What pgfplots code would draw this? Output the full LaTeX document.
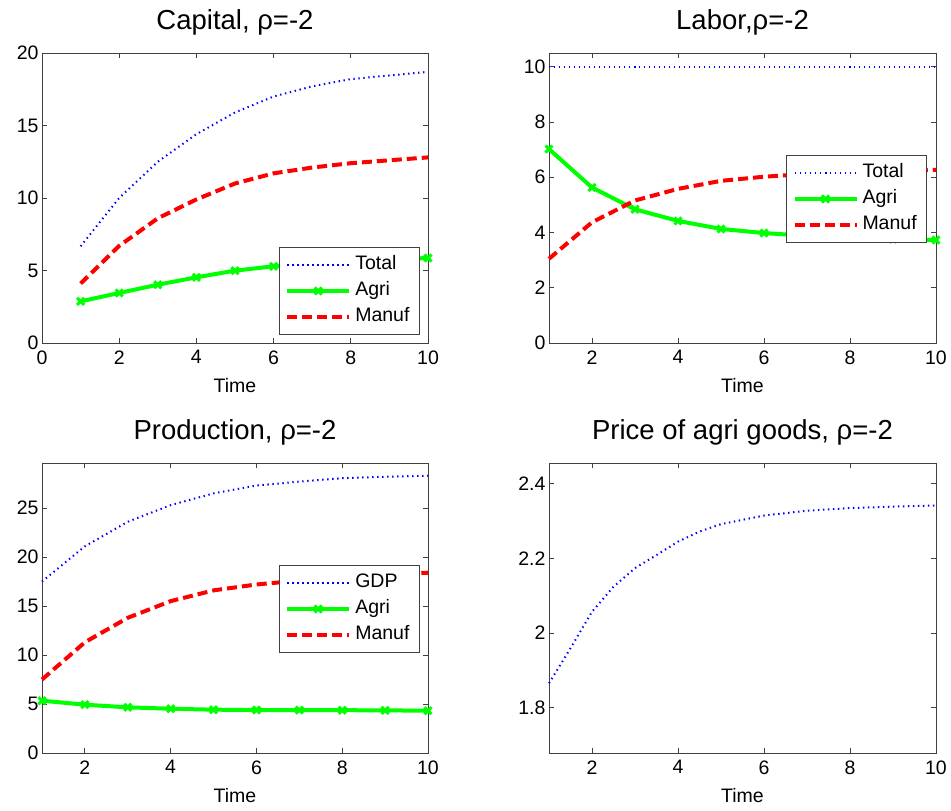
\documentclass[border=0pt]{standalone}
\usepackage{pgfplots}
\pgfplotsset{compat=1.18}
\usepackage{fontspec}
\setmainfont{Liberation Sans}
\definecolor{mblue}{RGB}{0,0,255}
\definecolor{mgreen}{RGB}{0,255,0}
\definecolor{mred}{RGB}{255,0,0}
\pgfplotsset{
  mstyle/.style={
    scale only axis, width=387pt, height=290pt, anchor=south west,
    axis line style={draw=black!75, line width=0.8pt},
    tick align=inside, tick pos=both, major tick length=5pt,
    every tick/.style={black!75, line width=0.8pt},
    /pgf/number format/assume math mode=true,
    tick label style={font=\fontsize{19.5}{22}\selectfont},
    xticklabel style={yshift=-4pt},
    label style={font=\fontsize{19.5}{22}\selectfont},
    xlabel={Time},
    xlabel style={at={(axis description cs:0.5,0)}, anchor=base, yshift=-50pt},
    title style={font=\fontsize{27.5}{30}\selectfont, at={(axis description cs:0.5,1)}, anchor=base, yshift=17pt},
    clip=false,
    legend cell align=left,
    legend style={font=\fontsize{19.5}{22}\selectfont, draw=black!75, line width=0.8pt, fill=white,
      inner xsep=6pt, inner ysep=4.5pt,
      nodes={text height=14pt, text depth=4pt, inner sep=4pt}},
    legend image code/.code={\draw[mark repeat=2,mark phase=2,##1] plot coordinates {(0pt,0pt) (31pt,0pt) (62pt,0pt)};},
  },
  tot/.style={mblue, line width=2pt, dash pattern=on 1.4pt off 3.6pt},
  agr/.style={mgreen, line width=4pt, mark=x, mark size=5pt, mark options={solid, line width=3pt}},
  man/.style={mred, line width=4pt, dash pattern=on 10pt off 5pt},
}
\begin{document}
\begin{tikzpicture}
\useasboundingbox (0,0) rectangle (951pt,811pt);
% Capital
\begin{axis}[mstyle, at={(42pt,468pt)}, width=386pt,
  xmin=0, xmax=10, ymin=0, ymax=20, xtick={0,2,4,6,8,10}, ytick={0,5,10,15,20},
  title={Capital, ρ=-2},
  legend style={at={(axis description cs:0.979,0.028)}, anchor=south east}]
\addplot[tot] coordinates {(1,6.67) (2,10.0) (3,12.5) (4,14.4) (5,15.9) (6,17.0) (7,17.7) (8,18.2) (9,18.45) (10,18.7)};
\addplot[agr] coordinates {(1,2.87) (2,3.45) (3,4.02) (4,4.53) (5,4.99) (6,5.29) (7,5.5) (8,5.65) (9,5.77) (10,5.86)};
\addplot[man] coordinates {(1,4.1) (2,6.7) (3,8.6) (4,9.9) (5,11.0) (6,11.7) (7,12.1) (8,12.4) (9,12.6) (10,12.8)};
\legend{Total,Agri,Manuf}
\end{axis}
% Labor
\begin{axis}[mstyle, at={(549pt,468pt)},
  xmin=1, xmax=10, ymin=0, ymax=10.5, xtick={2,4,6,8,10}, ytick={0,2,4,6,8,10},
  title={Labor,ρ=-2},
  legend style={at={(axis description cs:0.977,0.648)}, anchor=north east}]
\addplot[tot] coordinates {(1,10) (2,10) (3,10) (4,10) (5,10) (6,10) (7,10) (8,10) (9,10) (10,10)};
\addplot[agr] coordinates {(1,7.02) (2,5.63) (3,4.84) (4,4.42) (5,4.13) (6,3.98) (7,3.88) (8,3.81) (9,3.76) (10,3.73)};
\addplot[man] coordinates {(1,3.05) (2,4.37) (3,5.16) (4,5.58) (5,5.87) (6,6.02) (7,6.12) (8,6.19) (9,6.24) (10,6.27)};
\legend{Total,Agri,Manuf}
\end{axis}
% Production
\begin{axis}[mstyle, at={(42pt,58pt)}, width=386pt,
  xmin=1, xmax=10, ymin=0, ymax=29.6, xtick={2,4,6,8,10}, ytick={0,5,10,15,20,25},
  title={Production, ρ=-2},
  legend style={at={(axis description cs:0.979,0.648)}, anchor=north east}]
\addplot[tot] coordinates {(1,17.5) (2,21.1) (3,23.6) (4,25.3) (5,26.5) (6,27.3) (7,27.7) (8,28.05) (9,28.2) (10,28.3)};
\addplot[agr] coordinates {(1,5.34) (2,4.93) (3,4.66) (4,4.52) (5,4.42) (6,4.39) (7,4.38) (8,4.37) (9,4.35) (10,4.32)};
\addplot[man] coordinates {(1,7.5) (2,11.3) (3,13.8) (4,15.5) (5,16.6) (6,17.2) (7,17.6) (8,18.0) (9,18.2) (10,18.4)};
\legend{GDP,Agri,Manuf}
\end{axis}
% Price
\begin{axis}[mstyle, at={(549pt,58pt)},
  xmin=1, xmax=10, ymin=1.678, ymax=2.456, xtick={2,4,6,8,10}, ytick={1.8,2,2.2,2.4},
  title={Price of agri goods, ρ=-2}]
\addplot[tot] coordinates {(1,1.865) (1.5,1.959) (2,2.057) (2.5,2.124) (3,2.174) (3.5,2.209) (4,2.245) (4.5,2.272) (5,2.292) (6,2.315) (7,2.328) (8,2.335) (9,2.339) (10,2.342)};
\end{axis}
\end{tikzpicture}
\end{document}
